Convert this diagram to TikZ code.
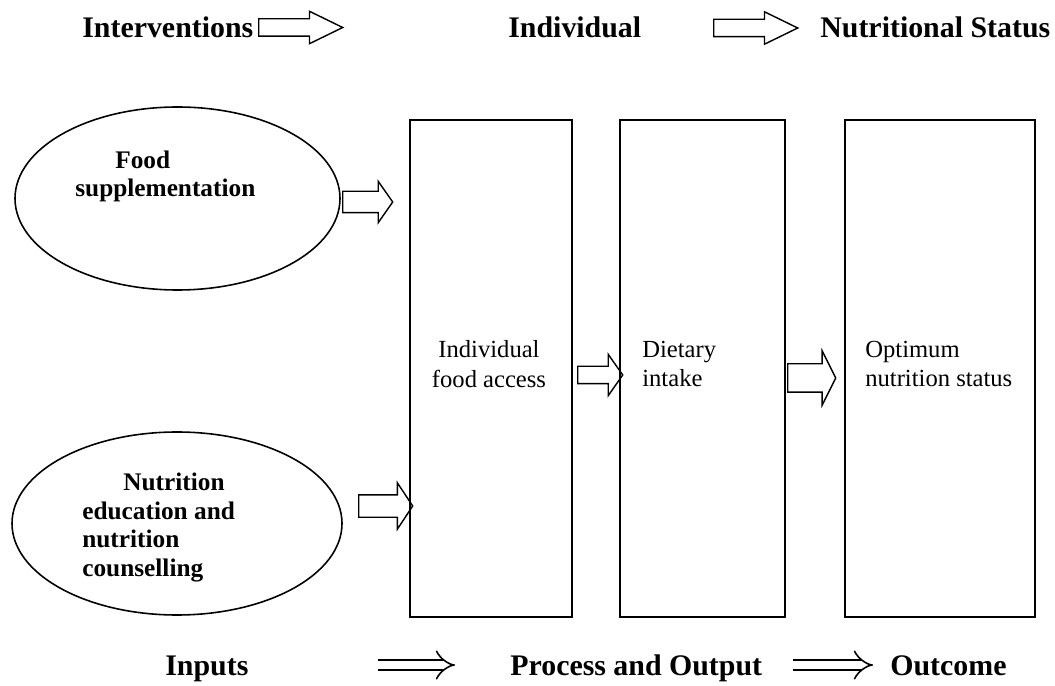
\documentclass[tikz,border=0pt]{standalone}
\usepackage{fontspec}
\setmainfont{Liberation Serif}
\usetikzlibrary{shapes.geometric,shapes.arrows,arrows.meta}
\tikzset{
  head/.style={font=\fontsize{17}{20}\selectfont\bfseries,inner sep=0pt,anchor=base west},
  oval/.style={draw,ellipse,line width=0.9pt,inner sep=0pt},
  ovaltext/.style={font=\fontsize{14.4}{16.3}\selectfont\bfseries,align=left,inner sep=0pt,anchor=west},
  stage/.style={draw,line width=0.9pt,inner sep=0pt},
  stagetext/.style={font=\fontsize{14}{17}\selectfont,inner sep=0pt},
  fat/.style={single arrow,draw,line width=0.8pt,inner sep=0pt,text depth=0pt,anchor=tail},
  implies/.style={double,line width=0.9pt,double distance=5pt,-{Implies[scale=1.2]}}
}
\begin{document}
\begin{tikzpicture}
  \useasboundingbox(0,0)rectangle(21.1,-13.72);
  % top row
  \node[head](interv)at(1.64,-0.76){Interventions};
  \node[head](indiv)at(10.16,-0.76){Individual};
  \node[head](nstat)at(16.4,-0.76){Nutritional Status};
  \node[fat,minimum height=1.68cm,text height=0.32cm,single arrow head extend=0.15cm,
    single arrow tip angle=52](t1)at(5.16,-0.55){};
  \node[fat,minimum height=1.68cm,text height=0.32cm,single arrow head extend=0.15cm,
    single arrow tip angle=52](t2)at(14.26,-0.56){};
  % inputs
  \node[oval,minimum width=6.5cm,minimum height=3.66cm](food)at(3.55,-3.97){};
  \node[ovaltext](foodtxt)at(1.5,-3.53){\hspace*{0.8cm}Food\\supplementation};
  \node[oval,minimum width=6.6cm,minimum height=3.66cm](edu)at(3.54,-10.47){};
  \node[ovaltext](edutxt)at(1.64,-10.55){\hspace*{0.82cm}Nutrition\\education and\\nutrition\\counselling};
  % stages
  \node[stage,minimum width=3.24cm,minimum height=9.94cm](access)at(9.82,-7.37){};
  \node[stage,minimum width=3.3cm,minimum height=9.94cm](intake)at(14.05,-7.37){};
  \node[stage,minimum width=3.8cm,minimum height=9.94cm](status)at(18.8,-7.37){};
  \node[stagetext,align=center](accesstxt)at(9.78,-7.28){Individual\\food access};
  \node[stagetext,align=left,anchor=west](intaketxt)at(12.84,-7.28){Dietary\\intake};
  \node[stagetext,align=left,anchor=west](statustxt)at(17.3,-7.28){Optimum\\nutrition status};
  % block arrows
  \node[fat,minimum height=1.0cm,text height=0.4cm,single arrow head extend=0.2cm,
    single arrow tip angle=110](a1)at(6.84,-4.04){};
  \node[fat,minimum height=1.08cm,text height=0.42cm,single arrow head extend=0.24cm,
    single arrow tip angle=113](a2)at(7.16,-10.12){};
  \node[fat,minimum height=0.9cm,text height=0.32cm,single arrow head extend=0.24cm,
    single arrow tip angle=110](a3)at(11.54,-7.5){};
  \node[fat,minimum height=0.96cm,text height=0.54cm,single arrow head extend=0.26cm,
    single arrow tip angle=127](a4)at(15.74,-7.56){};
  % bottom row
  \node[head](inputs)at(3.3,-13.5){Inputs};
  \node[head](process)at(10.2,-13.5){Process and Output};
  \node[head](outcome)at(17.8,-13.5){Outcome};
  \coordinate(d1s)at(7.56,-13.3);
  \coordinate(d1e)at(9.1,-13.3);
  \coordinate(d2s)at(15.86,-13.3);
  \coordinate(d2e)at(17.46,-13.3);
  \draw[implies](d1s)--(d1e);
  \draw[implies](d2s)--(d2e);
\end{tikzpicture}
\end{document}
